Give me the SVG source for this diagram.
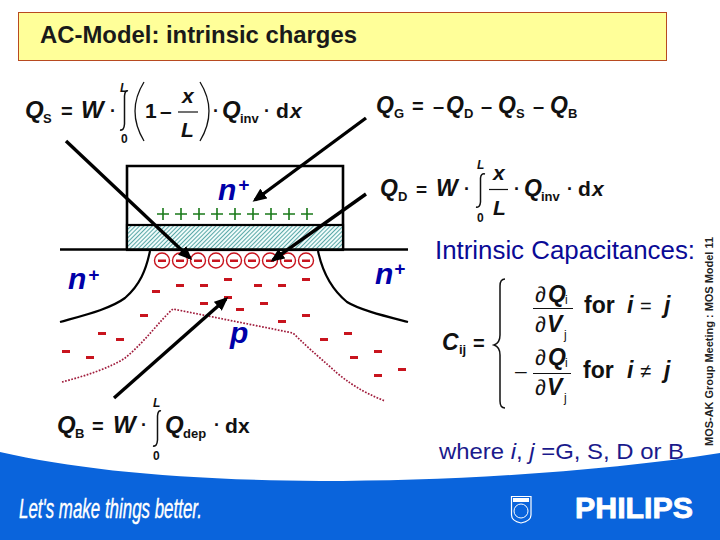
<svg xmlns="http://www.w3.org/2000/svg" width="720" height="540" viewBox="0 0 720 540">
<style>
text{font-family:"Liberation Sans",Arial,sans-serif}
.eq{font-weight:bold;fill:#111}
.eq .n{font-weight:normal}
.v{font-style:italic;font-weight:bold}
.blue{font-style:italic;font-weight:bold;fill:#0000a8}
.plus{stroke:#1a7a1a;stroke-width:1.6;fill:none}
.min{fill:#c8141e}
.cc{fill:none;stroke:#c8141e;stroke-width:1.4}
.cur{fill:none;stroke:#000;stroke-width:2.2}
.dot{fill:none;stroke:#a01c3c;stroke-width:1.7;stroke-dasharray:1.7 1.5}
.arr{stroke:#000;stroke-width:3.4;fill:none;marker-end:url(#ah)}
.ln{fill:none;stroke:#111;stroke-width:1.5}
.bar{stroke:#111;stroke-width:1.200;fill:none}
.nv{fill:#1a1a8c}
</style>
<defs>
<marker id="ah" markerUnits="userSpaceOnUse" markerWidth="15" markerHeight="12" refX="11" refY="6" orient="auto"><path d="M0 0L14 6L0 12z" fill="#000"/></marker>
<pattern id="hatch" width="3" height="3" patternUnits="userSpaceOnUse" patternTransform="rotate(-45)"><rect width="3" height="3" fill="#f0fbfa"/><rect width="3" height="1" fill="#5aa8a8"/></pattern>
</defs>
<rect width="720" height="540" fill="#fff"/>
<path id="footer" d="M0 452C80 470 180 480 320 481C450 481 600 472 720 453V540H0z" fill="#0a64dc"/>
<g id="title"><rect x="18.500" y="12.500" width="648" height="48" fill="#ffff99" stroke="#b84a20" stroke-width="1"/><text x="40" y="43" font-size="24" font-weight="bold" fill="#1a1a1a" textLength="317" lengthAdjust="spacingAndGlyphs">AC-Model: intrinsic charges</text></g>
<g id="eq-qs" class="eq">
<text x="25" y="118" font-size="24" class="v">Q</text><text x="43" y="123" font-size="13">S</text><text x="61" y="118" font-size="20">=</text><text x="81" y="118" font-size="24" class="v">W</text><text x="110" y="117" font-size="18">·</text><path class="ln" d="M128 91Q125 90 124.500 96V124Q124 131 120 130"/><text x="120" y="92" font-size="12" class="v">L</text><text x="121" y="143" font-size="12">0</text>
<path d="M144 82Q126 111 144 141M200 82Q218 111 200 141" fill="none" stroke="#111" stroke-width="1.300"/>
<text x="145" y="118" font-size="21">1</text><text x="160" y="118" font-size="21">–</text><text x="182" y="103" font-size="21" class="v">x</text><path class="bar" d="M178 112H198"/><text x="181" y="137" font-size="21" class="v">L</text><text x="213" y="117" font-size="18">·</text><text x="222" y="118" font-size="24" class="v">Q</text><text x="240" y="123" font-size="13">inv</text><text x="264" y="117" font-size="18">·</text><text x="276" y="118" font-size="21">d</text><text x="290" y="118" font-size="21" class="v">x</text>
</g>
<g id="eq-qg" class="eq"><text x="376" y="113" font-size="23" class="v">Q</text><text x="394" y="118" font-size="13">G</text><text x="412" y="113" font-size="20">=</text><text x="433" y="113" font-size="20">–</text><text x="446" y="113" font-size="23" class="v">Q</text><text x="464" y="118" font-size="13">D</text><text x="481" y="113" font-size="20">–</text><text x="498" y="113" font-size="23" class="v">Q</text><text x="516" y="118" font-size="13">S</text><text x="533" y="113" font-size="20">–</text><text x="550" y="113" font-size="23" class="v">Q</text><text x="568" y="118" font-size="13">B</text></g>
<g id="eq-qd" class="eq"><text x="380" y="196" font-size="23" class="v">Q</text><text x="398" y="201" font-size="13">D</text><text x="416" y="196" font-size="19">=</text><text x="436" y="196" font-size="23" class="v">W</text><text x="464" y="195" font-size="18">·</text><path class="ln" d="M485 174Q481 173 480.500 178V202Q480 208 476 207"/><text x="477" y="169" font-size="12" class="v">L</text><text x="477" y="222" font-size="12">0</text><text x="493" y="180" font-size="21" class="v">x</text><path class="bar" d="M489 189.500H508"/><text x="493" y="215" font-size="21" class="v">L</text><text x="514" y="195" font-size="18">·</text><text x="524" y="196" font-size="23" class="v">Q</text><text x="541" y="201" font-size="13">inv</text><text x="567" y="195" font-size="18">·</text><text x="578" y="196" font-size="21">d</text><text x="592" y="196" font-size="21" class="v">x</text></g>
<g id="eq-qb" class="eq"><text x="57" y="433" font-size="24" class="v">Q</text><text x="75" y="438" font-size="13">B</text><text x="92" y="433" font-size="20">=</text><text x="113" y="433" font-size="24" class="v">W</text><text x="141" y="431" font-size="18">·</text><path class="ln" d="M161 411Q158 410 157.500 416V440Q157 447 153 446"/><text x="153" y="407" font-size="12" class="v">L</text><text x="153" y="460" font-size="12">0</text><text x="165" y="433" font-size="24" class="v">Q</text><text x="183" y="438" font-size="13">dep</text><text x="214" y="431" font-size="18">·</text><text x="225" y="433" font-size="21">d</text><text x="238" y="433" font-size="21">x</text></g>
<g id="device">
<path d="M127 250V166H343V250" fill="none" stroke="#000" stroke-width="2.600"/>
<rect x="127" y="225" width="216" height="25" fill="url(#hatch)" stroke="#000" stroke-width="2.200"/>
<path d="M60 249.500H408" stroke="#000" stroke-width="2.600" fill="none"/>
<path class="cur" d="M150 251C146 270 140 285 125 298C110 309 85 315 60 322"/>
<path class="cur" d="M318 251C322 270 330 288 347 302C360 310 385 316 408 322"/>
<path class="dot" d="M62 382C85 376 110 368 125 358C145 342 160 320 173 309L293 333C310 350 325 362 337 373C355 388 370 395 385 401"/>
<text x="218" y="200" font-size="30" class="blue">n</text><text x="238" y="191" font-size="19" class="blue">+</text>
<text x="68" y="289" font-size="30" class="blue">n</text><text x="88" y="281" font-size="19" class="blue">+</text>
<text x="375" y="284" font-size="30" class="blue">n</text><text x="394" y="275" font-size="19" class="blue">+</text>
<text x="230" y="343" font-size="30" class="blue">p</text>
</g>
<g id="charges">
<path class="plus" d="M157 214H169M163 208V220M175 214H187M181 208V220M193 214H205M199 208V220M211 214H223M217 208V220M229 214H241M235 208V220M247 214H259M253 208V220M265 214H277M271 208V220M283 214H295M289 208V220M301 214H313M307 208V220"/>
<g class="cc"><circle cx="162" cy="260.500" r="7.500"/><circle cx="180" cy="260.500" r="7.500"/><circle cx="198" cy="260.500" r="7.500"/><circle cx="216" cy="260.500" r="7.500"/><circle cx="234" cy="260.500" r="7.500"/><circle cx="252" cy="260.500" r="7.500"/><circle cx="270" cy="260.500" r="7.500"/><circle cx="288" cy="260.500" r="7.500"/><circle cx="306" cy="260.500" r="7.500"/></g>
<path d="M158 259.500h8v2.500h-8zM176 259.500h8v2.500h-8zM194 259.500h8v2.500h-8zM212 259.500h8v2.500h-8zM230 259.500h8v2.500h-8zM248 259.500h8v2.500h-8zM266 259.500h8v2.500h-8zM284 259.500h8v2.500h-8zM302 259.500h8v2.500h-8z" class="min"/>
<path class="min" d="M152 290h8v3h-8zM176 284h8v3h-8zM200 284h8v3h-8zM224 278h8v3h-8zM254 284h8v3h-8zM278 284h8v3h-8zM302 278h8v3h-8zM200 302h8v3h-8zM224 296h8v3h-8zM236 308h8v3h-8zM260 302h8v3h-8zM140 314h8v3h-8zM278 320h8v3h-8zM302 314h8v3h-8zM98 332h8v3h-8zM116 338h8v3h-8zM62 350h8v3h-8zM86 356h8v3h-8zM320 338h8v3h-8zM344 332h8v3h-8zM350 356h8v3h-8zM374 350h8v3h-8zM374 374h8v3h-8zM398 368h8v3h-8z"/>
</g>
<g id="connectors">
<path class="arr" d="M66 141L190 258"/>
<path class="arr" d="M366 118L255 200"/>
<path class="arr" d="M366 194L273 260"/>
<path class="arr" d="M114 398L226 299"/>
</g>
<g id="caps">
<text x="435" y="259" font-size="25" fill="#0a0a96" textLength="260" lengthAdjust="spacingAndGlyphs">Intrinsic Capacitances:</text>
<path class="ln" d="M505 279Q500 279 500 286V335Q500 343 494 345Q500 347 500 355V401Q500 408 505 408"/>
<g class="eq"><text x="442" y="350" font-size="23" class="v">C</text><text x="459" y="354" font-size="13">ij</text><text x="473" y="350" font-size="20">=</text>
<text x="535" y="302" font-size="22" class="n">∂</text><text x="548" y="302" font-size="23" class="v">Q</text><text x="565" y="304" font-size="12" class="n">i</text><path class="bar" d="M533 308.500H573"/>
<text x="535" y="332" font-size="22" class="n">∂</text><text x="547" y="332" font-size="23" class="v">V</text><text x="564" y="339" font-size="12" class="n">j</text>
<text x="584" y="313" font-size="23">for</text><text x="627" y="313" font-size="23" class="v">i</text><text x="640" y="313" font-size="20" class="n">=</text><text x="664" y="313" font-size="23" class="v">j</text>
<text x="515" y="378" font-size="21" class="n">–</text>
<text x="535" y="365" font-size="22" class="n">∂</text><text x="548" y="365" font-size="23" class="v">Q</text><text x="565" y="367" font-size="12" class="n">i</text><path class="bar" d="M533 373.500H571"/>
<text x="535" y="395" font-size="22" class="n">∂</text><text x="547" y="395" font-size="23" class="v">V</text><text x="564" y="402" font-size="12" class="n">j</text>
<text x="583" y="378" font-size="23">for</text><text x="627" y="378" font-size="23" class="v">i</text><text x="640" y="378" font-size="20" class="n">≠</text><text x="664" y="378" font-size="23" class="v">j</text></g>
<text x="439" y="459" font-size="22.500" class="nv" textLength="245" lengthAdjust="spacingAndGlyphs">where <tspan font-style="italic">i</tspan>, <tspan font-style="italic">j</tspan> =G, S, D or B</text>
</g>
<text id="side" transform="translate(713 446) rotate(-90)" font-size="11" font-weight="bold" fill="#222" textLength="209" lengthAdjust="spacingAndGlyphs">MOS-AK Group Meeting : MOS Model 11</text>
<g id="logo" fill="#fff">
<text x="19" y="518" font-size="27" font-style="italic" stroke="#fff" stroke-width=".4" textLength="183" lengthAdjust="spacingAndGlyphs">Let's make things better.</text>
<text x="575" y="518" font-size="29" font-weight="bold" stroke="#fff" stroke-width=".8" textLength="118" lengthAdjust="spacingAndGlyphs">PHILIPS</text>
<path d="M511.500 496.500H531V515Q531 521 521 523Q511.500 521 511.500 515z" fill="none" stroke="#fff" stroke-width="1.200"/><circle cx="521" cy="511" r="7" fill="none" stroke="#fff" stroke-width="1"/><rect x="513" y="498" width="16" height="4"/>
</g>
</svg>
